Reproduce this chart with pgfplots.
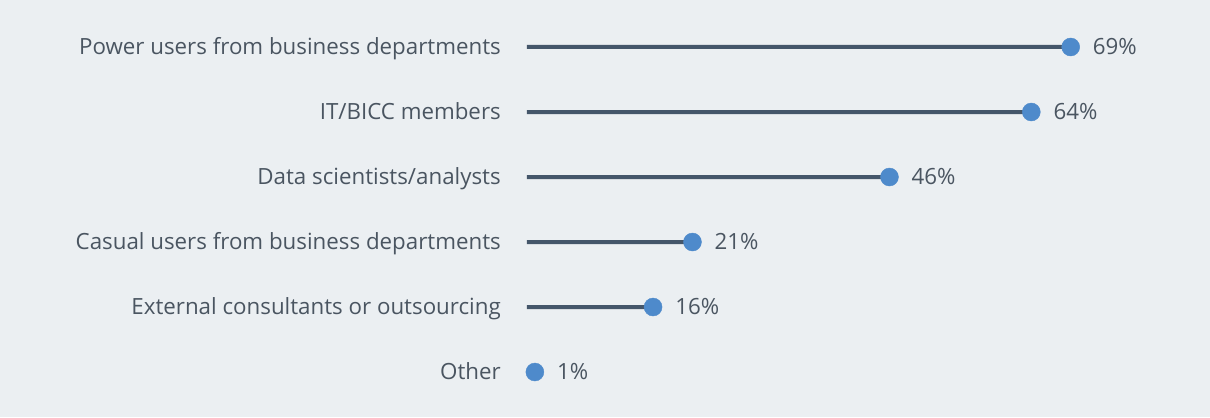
\documentclass[border=0pt]{standalone}
\usepackage{fontspec}
\setmainfont{Open Sans}
\usepackage{pgfplots}
\pgfplotsset{compat=1.18}
\definecolor{bg}{HTML}{EBEFF2}
\definecolor{stem}{HTML}{44566A}
\definecolor{dot}{HTML}{4E8ACB}
\definecolor{txt}{HTML}{4A5561}

\begin{document}
\begin{tikzpicture}[x=1bp,y=1bp]
\fill[bg] (-527,0) rectangle (683,417);
\useasboundingbox (-527,0) rectangle (683,417);
\begin{axis}[
    at={(0,0)}, anchor=south west,
    scale only axis,
    width=673bp, height=417bp,
    xmin=0, xmax=85.41,
    ymin=-0.723, ymax=5.692,
    y dir=reverse,
    axis line style={draw=none},
    xtick=\empty,
    ytick={0,...,5},
    yticklabels={Power users from business departments, IT/BICC members, Data scientists/analysts, Casual users from business departments, External consultants or outsourcing, Other},
    major tick length=0pt,
    yticklabel style={anchor=base east, inner sep=0pt, xshift=-26bp, yshift=-7.5bp, text=txt, font=\fontsize{22.4}{24}\selectfont},
    /pgf/number format/assume math mode=true,
    clip=false,
]
\addplot[xbar, bar width=4bp, bar shift=0pt, fill=stem, draw=none]
    coordinates {(69,0) (64,1) (46,2) (21,3) (16,4) (1,5)};
\addplot[only marks, mark=*, mark size=9bp, color=dot,
    point meta=x,
    nodes near coords={\pgfmathprintnumber{\pgfplotspointmeta}\%},
    nodes near coords style={anchor=base west, inner sep=0pt, xshift=22bp, yshift=-7.5bp, text=txt, font=\fontsize{22.4}{24}\selectfont}]
    coordinates {(69,0) (64,1) (46,2) (21,3) (16,4) (1,5)};
\end{axis}
\end{tikzpicture}
\end{document}
